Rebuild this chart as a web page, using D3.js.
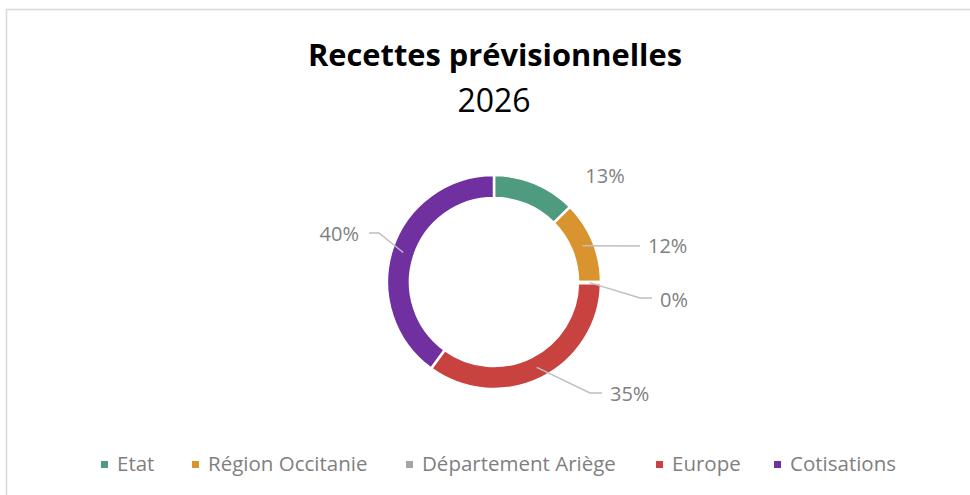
<!DOCTYPE html>
<html>
<head>
<meta charset="utf-8">
<script src="https://d3js.org/d3.v7.min.js"></script>
<style>
  body { margin: 0; background: #fff; }
  text { font-family: "Open Sans", sans-serif; }
</style>
</head>
<body>
<div id="vis"></div>
<script>
  // data
  const categories = ["Etat", "Région Occitanie", "Département Ariège", "Europe", "Cotisations"]
  const shares = [12.6, 12.4, 0.2, 34.8, 40.0]
  const colors = ["#4f9b80", "#d9932f", "#a5a5a5", "#c8423f", "#7030a0"]
  const chartTitle = "Recettes prévisionnelles"
  const chartSubtitle = "2026"

  const width = 970, height = 495
  const cx = 494, cy = 282
  const outerR = 107, innerR = 84

  // label placement (text anchor point + elbow), one per slice
  const labelLayout = [
    { x: 605, y: 183, anchor: "middle", line: false },
    { x: 648, y: 253, anchor: "start", elbow: [640, 246] },
    { x: 660, y: 307, anchor: "start", elbow: [640, 298] },
    { x: 610, y: 401, anchor: "start", elbow: [590, 393] },
    { x: 359, y: 241, anchor: "end", elbow: [379, 233] }
  ]

  var svg = d3.select("#vis")
    .append("svg")
    .attr("width", width)
    .attr("height", height)

  // chart frame
  svg.append("rect")
    .attr("x", 6.5).attr("y", 9.5)
    .attr("width", width + 20).attr("height", height + 20)
    .attr("fill", "#fff")
    .attr("stroke", "#d9d9d9")
    .attr("stroke-width", 1.5)

  svg.append("text")
    .attr("x", 495).attr("y", 66)
    .attr("text-anchor", "middle")
    .attr("textLength", 374)
    .attr("lengthAdjust", "spacingAndGlyphs")
    .style("font-size", "31px")
    .style("font-weight", "bold")
    .attr("fill", "#000")
    .text(chartTitle)

  svg.append("text")
    .attr("x", 494).attr("y", 112)
    .attr("text-anchor", "middle")
    .style("font-size", "32px")
    .attr("fill", "#000")
    .text(chartSubtitle)

  var rows = categories.map(function (c, i) { return { key: c, value: shares[i], color: colors[i] } })

  var pie = d3.pie().sort(null).value(function (d) { return d.value })
  var arcs = pie(rows)

  var arc = d3.arc().innerRadius(innerR).outerRadius(outerR)
  var midArc = d3.arc().innerRadius((innerR + outerR) / 2).outerRadius((innerR + outerR) / 2)

  var g = svg.append("g").attr("transform", "translate(" + cx + "," + cy + ")")

  g.selectAll("path")
    .data(arcs)
    .enter()
    .append("path")
    .attr("d", arc)
    .attr("fill", function (d) { return d.data.color })
    .attr("stroke", "#fff")
    .attr("stroke-width", 2.5)

  // leader lines
  svg.selectAll("polyline.leader")
    .data(arcs)
    .enter()
    .filter(function (d, i) { return labelLayout[i].line !== false })
    .append("polyline")
    .attr("class", "leader")
    .attr("fill", "none")
    .attr("stroke", "#bfbfbf")
    .attr("stroke-width", 1.5)
    .attr("points", function (d) {
      var i = arcs.indexOf(d)
      var L = labelLayout[i]
      var c = midArc.centroid(d)
      var start = [cx + c[0], cy + c[1]]
      var endX = L.anchor === "end" ? L.x + 10 : L.x - 8
      return [start, L.elbow, [endX, L.elbow[1]]].map(function (p) { return p.join(",") }).join(" ")
    })

  svg.selectAll("text.lbl")
    .data(arcs)
    .enter()
    .append("text")
    .attr("class", "lbl")
    .attr("x", function (d, i) { return labelLayout[i].x })
    .attr("y", function (d, i) { return labelLayout[i].y })
    .attr("text-anchor", function (d, i) { return labelLayout[i].anchor })
    .style("font-size", "20px")
    .attr("fill", "#7f7f7f")
    .text(function (d) { return d3.format(".0f")(d.data.value) + "%" })

  // legend
  const legendX = [101, 192, 406, 656, 774]
  var legend = svg.selectAll("g.legend")
    .data(rows)
    .enter()
    .append("g")
    .attr("class", "legend")
    .attr("transform", function (d, i) { return "translate(" + legendX[i] + ",461)" })

  legend.append("rect")
    .attr("width", 7).attr("height", 7)
    .attr("fill", function (d) { return d.color })

  legend.append("text")
    .attr("x", 16).attr("y", 10)
    .style("font-size", "20.5px")
    .attr("fill", "#7f7f7f")
    .text(function (d) { return d.key })
</script>
</body>
</html>
